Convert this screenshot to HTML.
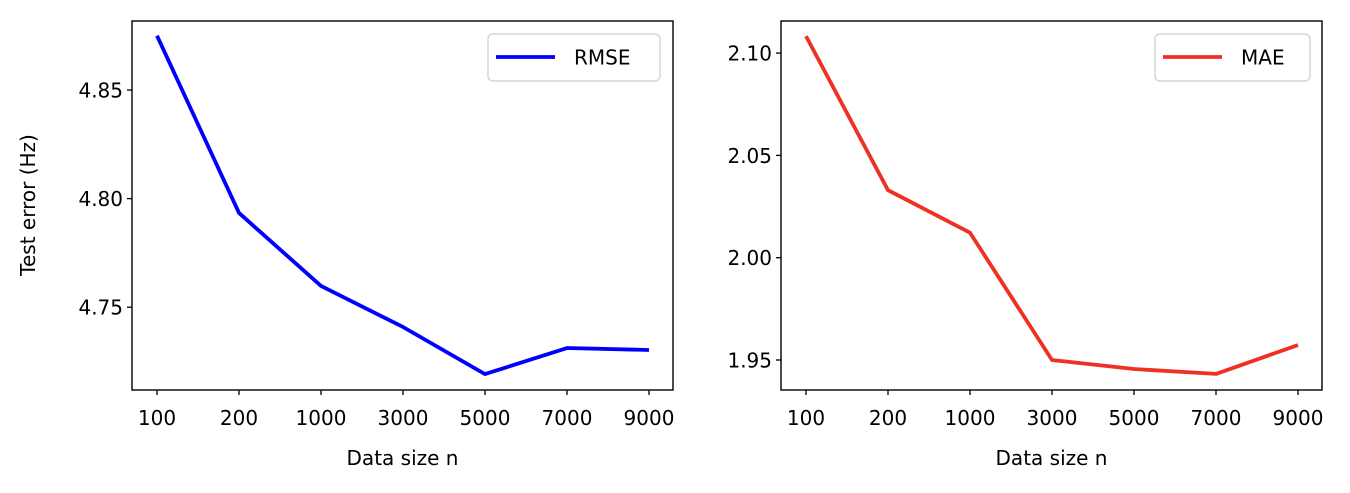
<!DOCTYPE html>
<html><head><meta charset="utf-8"><style>
body{margin:0;background:#fff;}
svg text{font-family:"DejaVu Sans","Liberation Sans",sans-serif;fill:#000;}
</style></head><body>
<svg id="chart" width="1350" height="488" xmlns="http://www.w3.org/2000/svg"></svg>
<script>
const categories=["100","200","1000","3000","5000","7000","9000"];
const rmseValues=[4.875,4.7934,4.7598,4.7409,4.7192,4.7312,4.7303];
const maeValues=[2.1083,2.033,2.0122,1.950,1.9456,1.9432,1.9573];
const rmseTicks=[4.75,4.80,4.85];
const maeTicks=[1.95,2.00,2.05,2.10];
const NS="http://www.w3.org/2000/svg";
const svg=document.getElementById('chart');
function mk(tag,attrs,parent){const e=document.createElementNS(NS,tag);for(const k in attrs)e.setAttribute(k,attrs[k]);(parent||svg).appendChild(e);return e;}
function panel(p){
  const g=mk('g',{});
  
  
  const x=i=>p.x0+i*p.dx;
  const y=v=>p.yRef+(p.vRef-v)*p.ppu;
  for(const t of p.ticks){
    const tk=mk('line',{x1:p.left-5,x2:p.left,y1:y(t),y2:y(t),stroke:'#000','stroke-width':1.3},g);
    
    
    const tx=mk('text',{x:p.left-9,y:y(t)+7.5,'text-anchor':'end','font-size':20},g);
    tx.textContent=t.toFixed(2);
    
    
  }
  categories.forEach((c,i)=>{
    const tk=mk('line',{x1:x(i),x2:x(i),y1:p.bottom,y2:p.bottom+5,stroke:'#000','stroke-width':1.3},g);
    
    
    const tx=mk('text',{x:x(i),y:p.bottom+35,'text-anchor':'middle','font-size':20},g);
    tx.textContent=c;
    
    
  });
  const pts=p.values.map((v,i)=>x(i)+','+y(v)).join(' ');
  const ln=mk('polyline',{points:pts,fill:'none',stroke:p.color,'stroke-width':3.8,'stroke-linejoin':'round'},g);
  
  
  const fr=mk('rect',{x:p.left,y:p.top,width:p.right-p.left,height:p.bottom-p.top,fill:'none',stroke:'#000','stroke-width':1.4},g);
  
  
  const xl=mk('text',{x:(p.left+p.right)/2,y:465,'text-anchor':'middle','font-size':20},g);
  xl.textContent='Data size n';
  
  
  const lg=mk('g',{},g);
  
  
  mk('rect',{x:p.lx,y:34,width:p.lw,height:47,rx:5,fill:'#fff',stroke:'#d6d6d6','stroke-width':1.5},lg);
  mk('line',{x1:p.lx+8,x2:p.lx+67,y1:57,y2:57,stroke:p.color,'stroke-width':3.8},lg);
  const lt=mk('text',{x:p.lx+86,y:64.5,'font-size':20},lg);
  lt.textContent=p.label;
  
  
}
panel({name:'rmse-panel',seriesName:'rmse',left:132,right:673,top:21,bottom:390,x0:157,dx:82,yRef:90,vRef:4.85,ppu:2172,ticks:rmseTicks,values:rmseValues,color:'#0000ff',lx:488,lw:172,label:'RMSE'});
panel({name:'mae-panel',seriesName:'mae',left:781,right:1322,top:21,bottom:390,x0:806,dx:82,yRef:360,vRef:1.95,ppu:2046,ticks:maeTicks,values:maeValues,color:'#ee3124',lx:1155,lw:155,label:'MAE'});
const yl=mk('text',{x:0,y:0,'text-anchor':'middle','font-size':20,transform:'translate(35,205) rotate(-90)'});
yl.textContent='Test error (Hz)';


</script>
</body></html>
